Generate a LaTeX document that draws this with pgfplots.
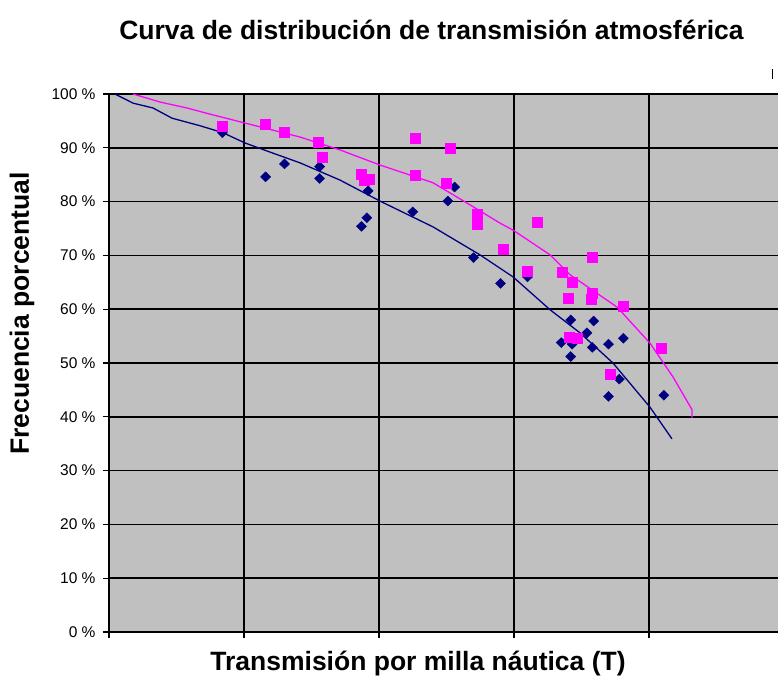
\documentclass[border=0pt]{standalone}
\usepackage{fontspec}
\setmainfont{Liberation Sans}
\usepackage{pgfplots}
\pgfplotsset{compat=1.18}
\definecolor{navyb}{HTML}{000080}
\definecolor{mag}{HTML}{FF00FF}
\definecolor{bg}{HTML}{C0C0C0}
\begin{document}
\begin{tikzpicture}[x=1pt,y=1pt]
\useasboundingbox (0,0) rectangle (778,677);
\begin{axis}[
  at={(109pt,45pt)}, anchor=south west,
  scale only axis, width=669pt, height=538pt,
  xmin=0, xmax=4.9556, ymin=0, ymax=100,
  axis background/.style={fill=bg},
  axis x line=bottom, axis y line=left,
  axis line style={-, black, line width=1.5pt},
  xtick={0,1,2,3,4}, xticklabels={},
  ytick={0,10,20,30,40,50,60,70,80,90,100},
  yticklabels={0 \%,10 \%,20 \%,30 \%,40 \%,50 \%,60 \%,70 \%,80 \%,90 \%,100 \%},
  /pgf/number format/assume math mode=true,
  yticklabel style={font=\fontsize{15.5}{15.5}\selectfont, xshift=-4pt},
  grid=major, major grid style={black, line width=1.6pt},
  tick style={black, line width=1.3pt}, tick align=outside, major tick length=6pt,
  clip=false,
]
\addplot[navyb, line width=1.3pt] coordinates {
(0.044,100.0)(0.178,98.3)(0.326,97.4)(0.467,95.5)(0.674,94.1)(0.844,92.8)(1.007,90.9)(1.193,89.2)(1.415,87.2)(1.711,84.0)(2.007,80.1)(2.400,75.3)(2.748,70.1)(2.993,66.0)(3.267,59.9)(3.489,55.6)(3.733,50.0)(4.007,41.8)(4.170,35.9)};
\addplot[mag, line width=1.3pt] coordinates {
(0.178,100.0)(0.378,98.5)(0.578,97.4)(0.711,96.5)(1.007,94.6)(1.415,92.0)(1.711,89.6)(2.007,86.8)(2.400,83.5)(2.674,79.4)(2.896,76.0)(2.993,74.7)(3.267,70.1)(3.415,66.4)(3.763,60.4)(4.007,53.7)(4.178,47.4)(4.319,41.3)(4.319,39.8)};
\addplot[only marks, mark=diamond*, mark size=5pt, navyb, mark options={fill=navyb, xscale=1.35}] coordinates {
(0.84,92.8)(1.16,84.6)(1.30,87.0)(1.56,86.5)(1.56,84.3)(1.87,75.4)(1.91,77.0)(1.92,82.0)(2.25,78.1)(2.51,80.1)(2.56,82.7)(2.70,69.6)(2.90,64.8)(3.10,66.0)(3.35,53.8)(3.42,58.0)(3.43,53.5)(3.42,51.2)(3.54,55.6)(3.58,52.9)(3.59,57.8)(3.70,53.5)(3.81,54.6)(3.78,47.0)(3.70,43.8)(4.11,44.0)};
\addplot[only marks, mark=square*, mark size=5pt, mag, mark options={fill=mag}] coordinates {
(0.84,94.0)(1.16,94.4)(1.30,92.9)(1.55,91.1)(1.58,88.3)(1.87,85.0)(1.89,84.0)(1.93,84.1)(2.27,91.8)(2.27,84.9)(2.50,83.4)(2.53,90.0)(2.73,77.7)(2.73,75.8)(2.92,71.2)(3.10,67.1)(3.17,76.2)(3.36,66.9)(3.43,65.1)(3.40,62.1)(3.58,69.7)(3.58,63.0)(3.57,61.9)(3.81,60.6)(3.41,54.8)(3.47,54.6)(3.71,48.0)(4.09,52.8)};
\end{axis}
\node[font=\bfseries\fontsize{26.5}{26.5}\selectfont] at (431.5,647) {Curva de distribución de transmisión atmosférica};
\node[rotate=90, font=\bfseries\fontsize{26.5}{26.5}\selectfont] at (22,363.5) {Frecuencia porcentual};
\node[font=\bfseries\fontsize{26.5}{26.5}\selectfont] at (418,13) {Transmisión por milla náutica (T)};
\draw[line width=1pt] (772,598) -- (772,608);
\end{tikzpicture}
\end{document}
